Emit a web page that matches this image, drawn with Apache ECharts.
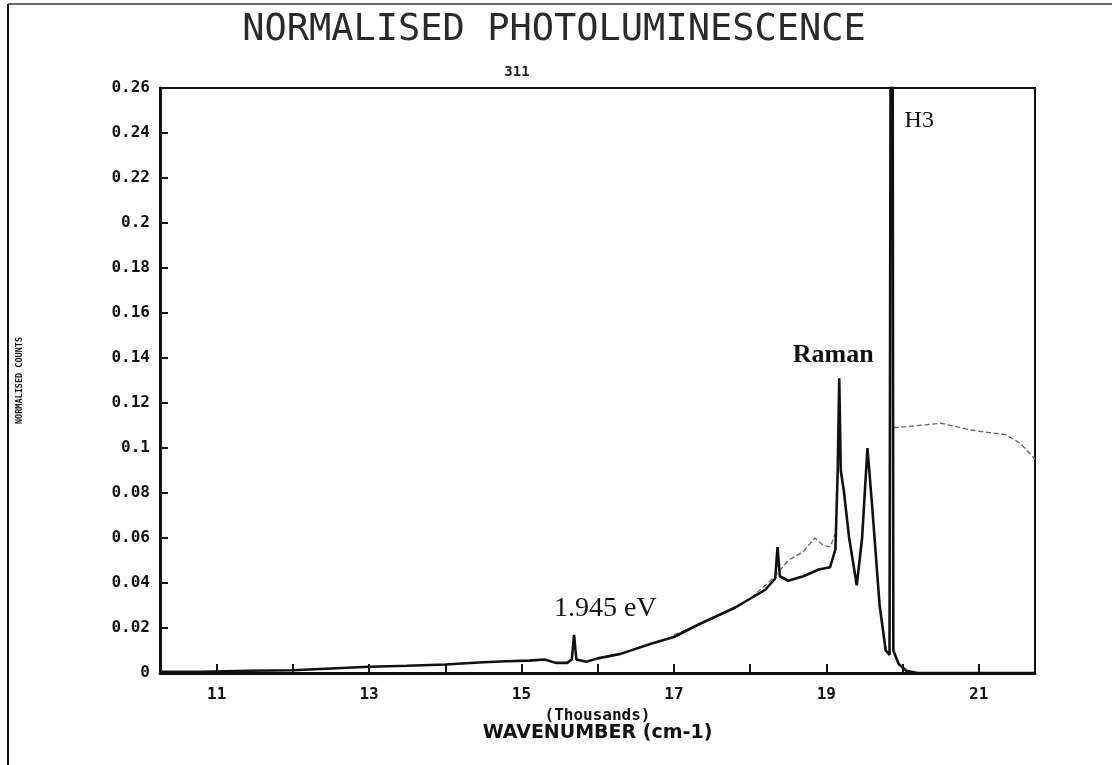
<!DOCTYPE html>
<html>
<head>
<meta charset="utf-8">
<title>Normalised photoluminescence</title>
<script src="https://cdn.jsdelivr.net/npm/echarts@6/dist/echarts.min.js"></script>
<style>
  html, body { margin: 0; padding: 0; background: #fff; }
  #pl { width: 1112px; height: 765px; }
</style>
</head>
<body>
<div id="pl"></div>
<script>
// wavenumber in thousands of cm-1, counts normalised
var waveMain = [10.26, 10.8, 11.4, 12.0, 12.5, 13.0, 13.5, 14.0, 14.5, 14.8, 15.1, 15.3, 15.45, 15.6, 15.66, 15.69, 15.72,
  15.85, 16.0, 16.3, 16.7, 17.0, 17.35, 17.8, 18.2, 18.33, 18.36, 18.39, 18.5, 18.7, 18.9, 19.05, 19.12, 19.15, 19.17,
  19.19, 19.23, 19.3, 19.4, 19.47, 19.54, 19.6, 19.7, 19.78, 19.83, 19.86, 19.88, 19.95, 20.05, 20.2, 21.74];
var countsMain = [0.0005, 0.0005, 0.001, 0.0012, 0.002, 0.0028, 0.0032, 0.0038, 0.0048, 0.0052, 0.0055, 0.006, 0.0045, 0.0045, 0.006, 0.017, 0.006,
  0.005, 0.0065, 0.0085, 0.013, 0.016, 0.022, 0.029, 0.037, 0.042, 0.056, 0.043, 0.041, 0.043, 0.046, 0.047, 0.055, 0.09, 0.131,
  0.09, 0.081, 0.06, 0.039, 0.06, 0.1, 0.075, 0.03, 0.01, 0.008, 0.6, 0.01, 0.004, 0.001, 0, 0];

// second (fainter) trace
var waveSecond = [17.0, 17.5, 18.0, 18.3, 18.5, 18.7, 18.85, 18.95, 19.05, 19.12, null,
  19.88, 20.2, 20.5, 20.9, 21.1, 21.35, 21.55, 21.74];
var countsSecond = [0.017, 0.024, 0.033, 0.042, 0.05, 0.054, 0.06, 0.057, 0.056, 0.062, null,
  0.109, 0.11, 0.111, 0.108, 0.107, 0.106, 0.102, 0.095];

var xTicks = [11, 12, 13, 14, 15, 16, 17, 18, 19, 20, 21];
var xLabels = [11, 13, 15, 17, 19, 21];

var notes = [
  { text: 'Raman', at: [19.09, 0.141], size: 26, weight: 'bold' },
  { text: '1.945 eV', at: [16.1, 0.0285], size: 28, weight: 'normal' },
  { text: 'H3', at: [20.22, 0.2455], size: 24, weight: 'normal' }
];

function pairs(xs, ys) {
  return xs.map(function (x, i) { return x === null ? [null, null] : [x, ys[i]]; });
}

var myChart = echarts.init(document.getElementById('pl'));

var option = {
  backgroundColor: '#fff',
  animation: false,
  title: [
    {
      text: 'NORMALISED PHOTOLUMINESCENCE',
      left: 549, top: 7, textAlign: 'center',
      textStyle: { fontFamily: 'DejaVu Sans Mono', fontSize: 37, fontWeight: 'normal', color: '#2a2a2a' }
    },
    {
      text: '311',
      left: 512, top: 60, textAlign: 'center',
      textStyle: { fontFamily: 'DejaVu Sans Mono', fontSize: 14, fontWeight: 'bold', color: '#222' }
    }
  ],
  grid: {
    left: 160, right: 77, top: 88, bottom: 92,
    show: true, borderColor: '#111', borderWidth: 2
  },
  xAxis: {
    type: 'value',
    min: 10.256, max: 21.739,
    name: '{a|(Thousands)}\n{b|WAVENUMBER (cm-1)}',
    nameLocation: 'middle',
    nameGap: 32,
    nameTextStyle: {
      color: '#111',
      rich: {
        a: { fontFamily: 'DejaVu Sans Mono', fontWeight: 'bold', fontSize: 16, lineHeight: 16 },
        b: { fontFamily: 'DejaVu Sans', fontWeight: 'bold', fontSize: 19, lineHeight: 19 }
      }
    },
    axisLine: { lineStyle: { color: '#111', width: 3 } },
    axisTick: { inside: true, length: 9, customValues: xTicks, lineStyle: { color: '#111', width: 2 } },
    axisLabel: {
      customValues: xLabels, margin: 14,
      fontFamily: 'DejaVu Sans Mono', fontWeight: 'bold', fontSize: 16, color: '#111'
    },
    splitLine: { show: false }
  },
  yAxis: {
    type: 'value',
    min: 0, max: 0.26, interval: 0.02,
    name: 'NORMALISED COUNTS',
    nameLocation: 'middle',
    nameGap: 136,
    nameTextStyle: { fontFamily: 'DejaVu Sans Mono', fontWeight: 'bold', fontSize: 8.5, color: '#111' },
    axisLine: { lineStyle: { color: '#111', width: 3 } },
    axisTick: { inside: true, length: 8, lineStyle: { color: '#111', width: 2 } },
    axisLabel: { margin: 10, fontFamily: 'DejaVu Sans Mono', fontWeight: 'bold', fontSize: 16, color: '#111' },
    splitLine: { show: false }
  },
  graphic: [
    { type: 'line', shape: { x1: 8, y1: 4, x2: 8, y2: 765 }, style: { stroke: '#111', lineWidth: 2 } },
    { type: 'line', shape: { x1: 8, y1: 4, x2: 1112, y2: 4 }, style: { stroke: '#333', lineWidth: 1.5 } }
  ],
  series: [
    {
      name: 'trace 2',
      type: 'line',
      data: pairs(waveSecond, countsSecond),
      showSymbol: false,
      connectNulls: false,
      lineStyle: { color: '#666', width: 1.3, type: 'dashed' }
    },
    {
      name: 'PL',
      type: 'line',
      data: pairs(waveMain, countsMain),
      showSymbol: false,
      clip: true,
      lineStyle: { color: '#111', width: 2.6 },
      markPoint: {
        symbol: 'circle',
        symbolSize: 1,
        itemStyle: { color: 'rgba(0,0,0,0)' },
        label: { show: true, position: 'inside', color: '#111', fontFamily: 'Liberation Serif' },
        data: notes.map(function (n) {
          return {
            coord: n.at, value: n.text,
            label: { formatter: n.text, fontSize: n.size, fontWeight: n.weight }
          };
        })
      }
    }
  ]
};

myChart.setOption(option);
</script>
</body>
</html>
